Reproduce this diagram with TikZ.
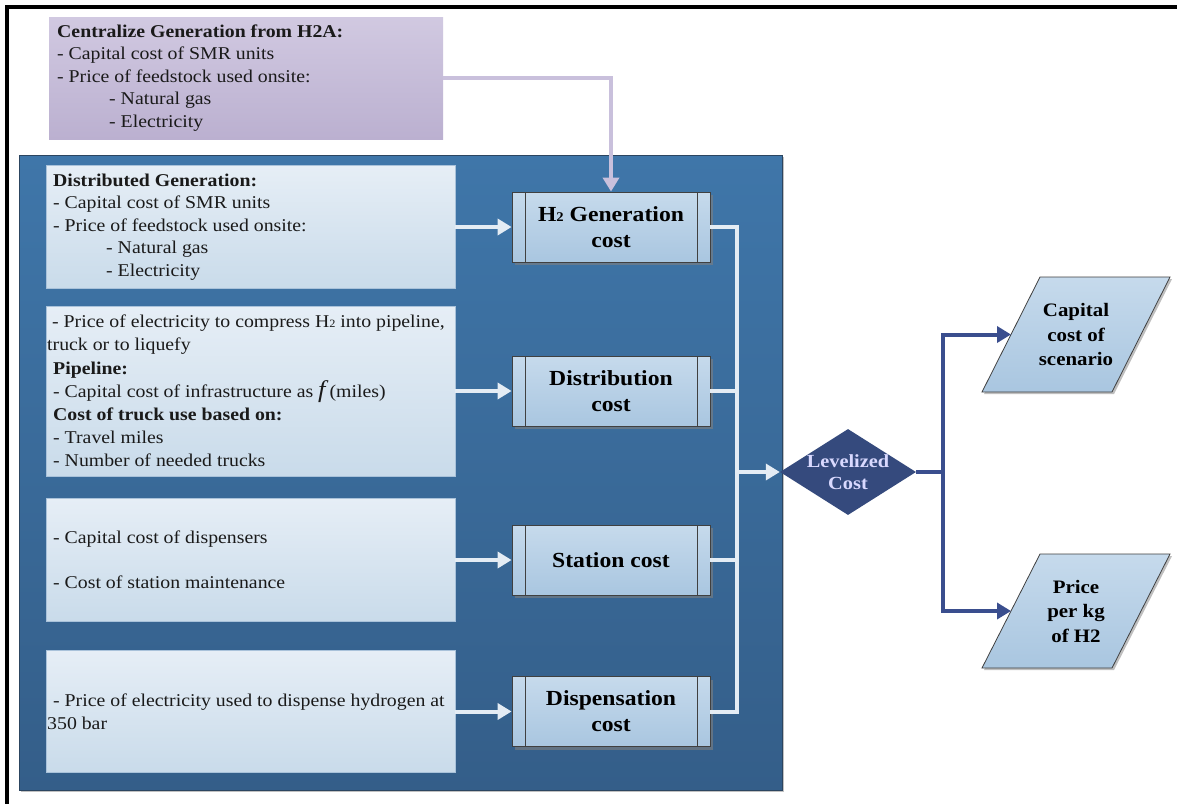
\documentclass[tikz,border=0pt]{standalone}
\usepackage{fontspec}
\setmainfont[FakeStretch=1.1]{Liberation Serif}
\usetikzlibrary{arrows.meta,shapes.geometric,shadows,calc}
\definecolor{panelTop}{HTML}{3F76A9}
\definecolor{panelBot}{HTML}{345E89}
\definecolor{panelEdge}{HTML}{2C4560}
\definecolor{lboxTop}{HTML}{E6EEF6}
\definecolor{lboxBot}{HTML}{C9DBEA}
\definecolor{lboxEdge}{HTML}{A9C2DA}
\definecolor{pboxTop}{HTML}{C6DAEC}
\definecolor{pboxBot}{HTML}{A9C6E0}
\definecolor{purTop}{HTML}{D1C9E1}
\definecolor{purBot}{HTML}{BBB0D0}
\definecolor{purLine}{HTML}{C9C0DC}
\definecolor{wLine}{HTML}{E4ECF4}
\definecolor{navy}{HTML}{354A7D}
\definecolor{navyLine}{HTML}{3A4E8E}
\definecolor{edgeGray}{HTML}{404040}
\definecolor{txtInk}{HTML}{1A1A1A}
\newcommand\hsub[1]{\scalebox{0.62}{#1}}
\tikzset{
  body/.style={font=\fontsize{18}{22.5}\selectfont, align=left, inner sep=0pt, anchor=west, text=txtInk},
  leftbox/.style={draw=lboxEdge, line width=0.7pt, top color=lboxTop, bottom color=lboxBot, minimum width=409pt, inner sep=0pt},
  procbox/.style={draw=edgeGray, line width=0.8pt, top color=pboxTop, bottom color=pboxBot,
    minimum width=198pt, minimum height=70pt, inner sep=0pt,
    font=\fontsize{21.5}{26}\selectfont\bfseries, align=center, text=black,
    drop shadow={shadow xshift=3pt, shadow yshift=-3pt, fill=black!50, opacity=0.6},
    path picture={\draw[edgeGray, line width=0.8pt]
      ([xshift=13pt]path picture bounding box.north west) -- ([xshift=13pt]path picture bounding box.south west)
      ([xshift=-13pt]path picture bounding box.north east) -- ([xshift=-13pt]path picture bounding box.south east);}},
  pgram/.style={draw=edgeGray, line width=0.8pt, top color=pboxTop, bottom color=pboxBot,
    drop shadow={shadow xshift=2pt, shadow yshift=-2pt, fill=black!50, opacity=0.5}},
  pglabel/.style={font=\fontsize{19}{24.5}\selectfont\bfseries, align=center, inner sep=0pt, text=black},
  wline/.style={draw=wLine, line width=4pt},
  warrow/.style={wline, -{Triangle[length=14pt,width=16pt]}},
  pline/.style={draw=purLine, line width=4pt, -{Triangle[length=14pt,width=16pt]}},
  nline/.style={draw=navyLine, line width=4pt},
  narrow/.style={nline, -{Triangle[length=14pt,width=16pt]}},
}
\begin{document}
\begin{tikzpicture}[x=1pt, y=-1pt]
\useasboundingbox (0,0) rectangle (1177,803);
\fill[white] (0,0) rectangle (1177,803);
% outer frame
\draw[line width=4pt, line cap=rect] (7,803) -- (7,7) -- (1177,7);

% centralized generation box
\node[top color=purTop, bottom color=purBot, minimum width=394pt, minimum height=122pt, inner sep=0pt] (pur) at (246,78) {};
\node[body] (tpur) at (57,78) {\textbf{Centralize Generation from H2A:}\\
- Capital cost of SMR units\\
- Price of feedstock used onsite:\\
\hspace*{52pt}- Natural gas\\
\hspace*{52pt}- Electricity};

% big blue panel
\node[draw=panelEdge, line width=0.8pt, top color=panelTop, bottom color=panelBot,
  minimum width=763pt, minimum height=635pt, inner sep=0pt,
  drop shadow={shadow xshift=2pt, shadow yshift=-2pt, fill=black!40, opacity=0.6}] (panel) at (400.5,472.5) {};

% left boxes
\node[leftbox, minimum height=123pt] (b1) at (250.5,227) {};
\node[leftbox, minimum height=170pt] (b2) at (250.5,391) {};
\node[leftbox, minimum height=123pt] (b3) at (250.5,560) {};
\node[leftbox, minimum height=122pt] (b4) at (250.5,711.5) {};

\node[body] (t1) at (53,227) {\textbf{Distributed Generation:}\\
- Capital cost of SMR units\\
- Price of feedstock used onsite:\\
\hspace*{53pt}- Natural gas\\
\hspace*{53pt}- Electricity};

\node[body, font=\fontsize{18}{23.2}\selectfont] (t2) at (47,391) {\hspace*{5pt}- Price of electricity to compress H\hsub{2} into pipeline,\\
truck or to liquefy\\
\hspace*{6pt}\textbf{Pipeline:}\\
\hspace*{6pt}- Capital cost of infrastructure as {\fontsize{24}{22}\selectfont\itshape f\,}(miles)\\
\hspace*{6pt}\textbf{Cost of truck use based on:}\\
\hspace*{6pt}- Travel miles\\
\hspace*{6pt}- Number of needed trucks};

\node[body] (t3) at (53,560) {- Capital cost of dispensers\\[22.5pt]
- Cost of station maintenance};

\node[body] (t4) at (47,711.5) {\hspace*{6pt}- Price of electricity used to dispense hydrogen at\\
350 bar};

% process boxes
\node[procbox] (g1) at (611,227) {H\hsub{2} Generation\\cost};
\node[procbox] (g2) at (611,391) {Distribution\\cost};
\node[procbox] (g3) at (611,560) {Station cost};
\node[procbox] (g4) at (611,711.5) {Dispensation\\cost};

% levelized cost diamond
\node[diamond, fill=navy, aspect=1.58, minimum width=136pt, minimum height=86pt, inner sep=0pt] (lc) at (848,472) {};
\node[font=\fontsize{18.5}{22}\selectfont\bfseries, align=center, inner sep=0pt, text=white!85!blue] (lct) at (lc) {Levelized\\Cost};

% output parallelograms
\path[pgram] (982,392) -- (1040,277) -- (1170,277) -- (1112,392) -- cycle;
\node[pglabel] (p1) at (1076,334.5) {Capital\\cost of\\scenario};
\coordinate (p1w) at (1011,334.5);
\path[pgram] (982,668) -- (1040,554) -- (1170,554) -- (1112,668) -- cycle;
\node[pglabel] (p2) at (1076,611) {Price\\per kg\\of H2};
\coordinate (p2w) at (1011,611);

% connectors
\draw[pline] (pur.east) -| (g1.north);
\draw[warrow] (b1.east) -- (g1.west);
\draw[warrow] (b2.east) -- (g2.west);
\draw[warrow] (b3.east) -- (g3.west);
\draw[warrow] (b4.east) -- (g4.west);
\coordinate (bus) at (737,472);
\draw[wline] (g1.east) -| (bus);
\draw[wline] (g2.east) -| (bus);
\draw[wline] (g3.east) -| (bus);
\draw[wline] (g4.east) -| (bus);
\draw[warrow] (bus) -- (lc.west);
\coordinate (split) at (943,472);
\draw[nline] (lc.east) -- (split);
\draw[narrow] (split) |- (p1w);
\draw[narrow] (split) |- (p2w);
\end{tikzpicture}
\end{document}
